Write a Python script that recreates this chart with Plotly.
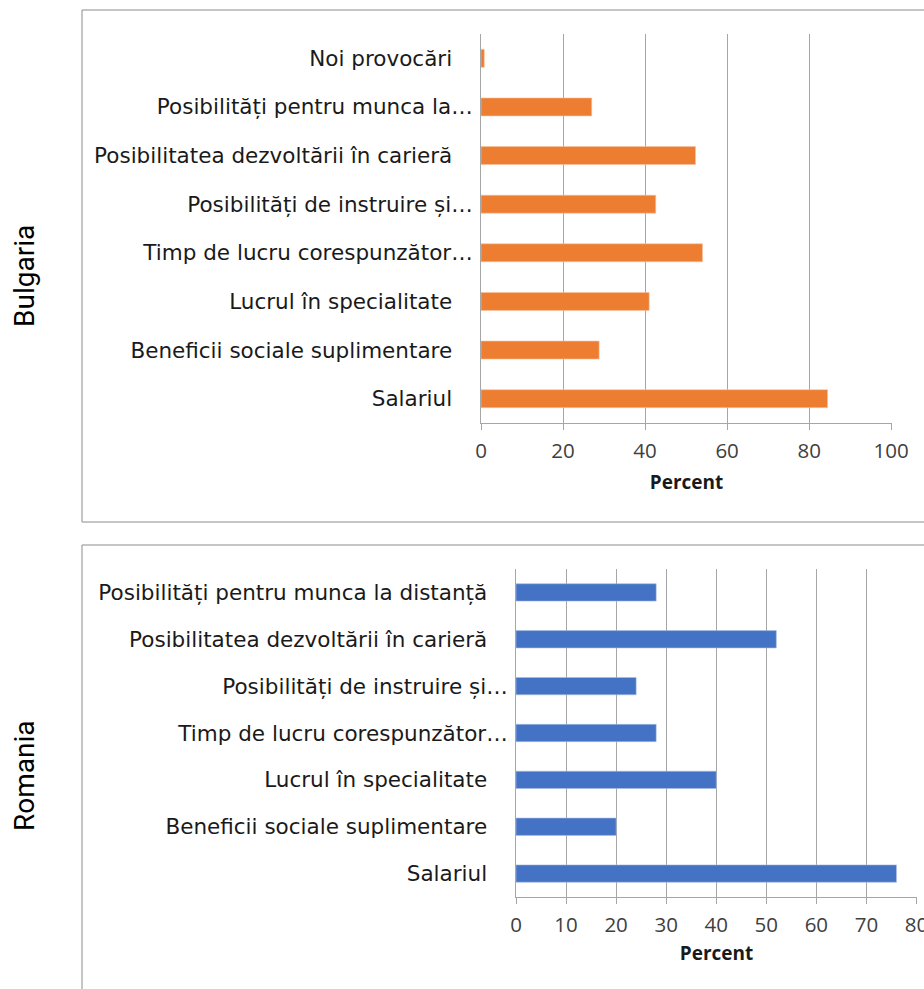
import plotly.graph_objects as go

# Bulgaria (top panel), listed top to bottom
bg_labels = [
    "Noi provocări",
    "Posibilități pentru munca la…",
    "Posibilitatea dezvoltării în carieră",
    "Posibilități de instruire și…",
    "Timp de lucru corespunzător…",
    "Lucrul în specialitate",
    "Beneficii sociale suplimentare",
    "Salariul",
]
bg_values = [0.8, 27, 52.3, 42.6, 54, 41, 28.8, 84.5]

# Romania (bottom panel), listed top to bottom
ro_labels = [
    "Posibilități pentru munca la distanță",
    "Posibilitatea dezvoltării în carieră",
    "Posibilități de instruire și…",
    "Timp de lucru corespunzător…",
    "Lucrul în specialitate",
    "Beneficii sociale suplimentare",
    "Salariul",
]
ro_values = [28, 52, 24, 28, 40, 20, 76]

bg_ticks = [0, 20, 40, 60, 80, 100]
ro_ticks = [0, 10, 20, 30, 40, 50, 60, 70, 80]

W, H = 924, 989
GRID = "#a6a6a6"
LABEL_FONT = dict(family="DejaVu Sans", size=21.5, color="#1a1a1a")
TICK_FONT = dict(family="Open Sans", size=20.5, color="#404040")
TITLE_FONT = dict(family="Open Sans", size=19, color="#1a1a1a")
SIDE_FONT = dict(family="Roboto", size=28, color="black")


def pad(lbl):
    # Excel leaves a trailing space after labels that were not cut short
    return lbl if lbl.endswith("…") else lbl + "\u00a0\u00a0\u00a0"


def px_x(p):
    return p / W


def px_y(p):
    return 1 - p / H


fig = go.Figure()

fig.add_trace(go.Bar(
    x=bg_values, y=[pad(l) for l in bg_labels], orientation="h",
    marker=dict(color="#ED7D31", line=dict(color="#f6c2a0", width=0.6)),
    width=0.37, xaxis="x", yaxis="y", showlegend=False,
))
fig.add_trace(go.Bar(
    x=ro_values, y=[pad(l) for l in ro_labels], orientation="h",
    marker=dict(color="#4472C4", line=dict(color="#a9bde3", width=0.6)),
    width=0.37, xaxis="x2", yaxis="y2", showlegend=False,
))

xaxis_common = dict(
    showgrid=True, gridcolor=GRID, gridwidth=1,
    showline=True, linecolor=GRID, linewidth=1,
    ticks="outside", ticklen=6, tickcolor=GRID,
    tickfont=TICK_FONT, ticklabelstandoff=3, zeroline=False,
    automargin=False, ticklabeloverflow="allow",
)
yaxis_common = dict(
    showline=True, linecolor=GRID, linewidth=1,
    ticks="", tickfont=LABEL_FONT, ticklabelstandoff=3,
    autorange="reversed", showgrid=False, automargin=False,
)

fig.update_layout(
    width=W, height=H,
    margin=dict(l=0, r=0, t=0, b=0),
    plot_bgcolor="white", paper_bgcolor="white",
    xaxis=dict(
        domain=[px_x(481), px_x(892)], range=[0, 100.2], tickvals=bg_ticks,
        anchor="y",
        title=dict(text="<b>Percent</b>", font=TITLE_FONT, standoff=13),
        **xaxis_common,
    ),
    yaxis=dict(domain=[px_y(423), px_y(34)], anchor="x", **yaxis_common),
    xaxis2=dict(
        domain=[px_x(516), px_x(917)], range=[0, 80.1], tickvals=ro_ticks,
        anchor="y2",
        title=dict(text="<b>Percent</b>", font=TITLE_FONT, standoff=10),
        **xaxis_common,
    ),
    yaxis2=dict(domain=[px_y(897), px_y(569)], anchor="x2", **yaxis_common),
    shapes=[
        dict(type="rect", xref="paper", yref="paper",
             x0=px_x(82), x1=1.02, y0=px_y(522), y1=px_y(10),
             line=dict(color="#8c8c8c", width=1), fillcolor="rgba(0,0,0,0)", layer="below"),
        dict(type="rect", xref="paper", yref="paper",
             x0=px_x(82), x1=1.02, y0=-0.02, y1=px_y(545),
             line=dict(color="#8c8c8c", width=1), fillcolor="rgba(0,0,0,0)", layer="below"),
    ],
    annotations=[
        dict(text="Bulgaria", textangle=-90, xref="paper", yref="paper",
             x=px_x(24), y=px_y(276), xanchor="center", yanchor="middle",
             showarrow=False, font=SIDE_FONT),
        dict(text="Romania", textangle=-90, xref="paper", yref="paper",
             x=px_x(24), y=px_y(776), xanchor="center", yanchor="middle",
             showarrow=False, font=SIDE_FONT),
    ],
    bargap=0.6,
)

# drop the default page margin so the 924x989 figure fills the window exactly
fig.write_html(
    "out.html",
    config={"displayModeBar": False},
    post_script="document.body.style.margin='0';document.body.style.overflow='hidden';",
)
